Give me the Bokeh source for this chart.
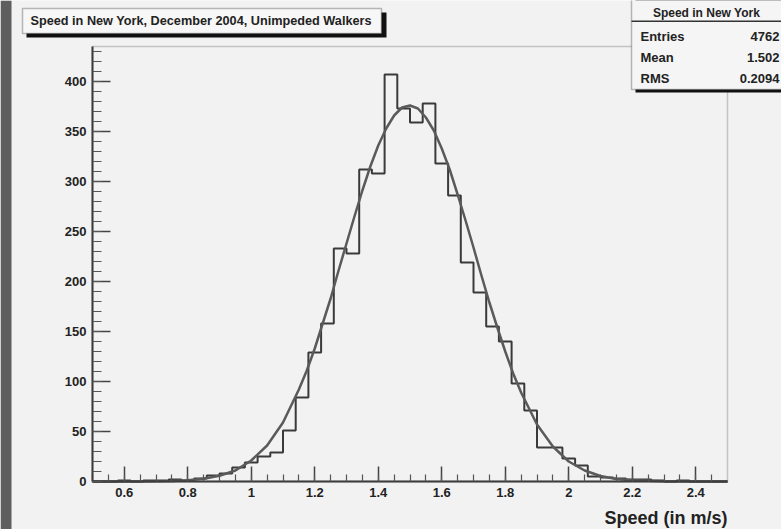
from bokeh.plotting import figure
from bokeh.models import Range1d, BoxAnnotation, Label, SingleIntervalTicker, CustomJSTickFormatter
from bokeh.embed import file_html
from bokeh.resources import INLINE

# ---------------- data ----------------
title_text = "Speed in New York, December 2004, Unimpeded Walkers"
x_label = "Speed (in m/s)"
stats_title = "Speed in New York"
stats_names = ["Entries", "Mean", "RMS"]
stats_values = ["4762", "1.502", "0.2094"]

bin_edges = [0.50, 0.54, 0.58, 0.62, 0.66, 0.70, 0.74, 0.78, 0.82, 0.86,
             0.90, 0.94, 0.98, 1.02, 1.06, 1.10, 1.14, 1.18, 1.22, 1.26,
             1.30, 1.34, 1.38, 1.42, 1.46, 1.50, 1.54, 1.58, 1.62, 1.66,
             1.70, 1.74, 1.78, 1.82, 1.86, 1.90, 1.94, 1.98, 2.02, 2.06,
             2.10, 2.14, 2.18, 2.22, 2.26, 2.30, 2.34, 2.38, 2.42, 2.46, 2.50]
counts = [0, 0, 1, 0, 1, 1, 2, 1, 3, 6,
          8, 14, 19, 25, 29, 51, 84, 129, 158, 233,
          228, 312, 308, 407, 373, 359, 378, 318, 286, 219,
          189, 155, 140, 98, 71, 34, 34, 23, 16, 5,
          4, 3, 2, 2, 1, 0, 1, 0, 0, 0]

fit_x = [0.50, 0.60, 0.70, 0.75, 0.80, 0.85, 0.90, 0.95, 1.00, 1.05,
         1.10, 1.15, 1.175, 1.20, 1.225, 1.25, 1.275, 1.30, 1.325, 1.35,
         1.375, 1.40, 1.425, 1.45, 1.475, 1.50, 1.525, 1.55, 1.575, 1.60,
         1.625, 1.65, 1.675, 1.70, 1.725, 1.75, 1.775, 1.80, 1.825, 1.85,
         1.90, 1.95, 2.00, 2.05, 2.10, 2.15, 2.20, 2.30, 2.40, 2.50]
fit_y = [0, 0, 0.2, 0.6, 1.3, 2.8, 5.8, 11, 21, 36,
         59, 92, 111, 133, 158, 183, 211, 238, 265, 291,
         315, 336, 353, 366, 374, 376, 373, 364, 351, 333,
         312, 287, 261, 234, 206, 179, 154, 130, 108, 89,
         57, 35, 20, 11, 5.5, 2.6, 1.2, 0.2, 0, 0]

x_lo, x_hi = 0.5, 2.5      # histogram axis range
y_lo, y_hi = 0, 435        # frame vertical range

FONT = "Liberation Sans"
BG = "#f2f2f2"
INK = "#222222"

W, H = 781, 529
# frame of the ROOT pad: x 92..727 px, y 46..481 px (from top)
px_per_x = (727 - 92) / (x_hi - x_lo)
px_per_y = (481 - 46) / (y_hi - y_lo)

p = figure(width=W, height=H,
           x_range=Range1d(x_lo - 92 / px_per_x, x_lo + (W - 92) / px_per_x),
           y_range=Range1d(y_lo - (H - 481) / px_per_y, y_lo + 481 / px_per_y),
           output_backend="svg", toolbar_location=None, title=None,
           background_fill_color=BG, border_fill_color=BG)
p.min_border = 0
p.grid.visible = False
p.outline_line_color = None

# dark strip at the left edge of the photo
p.add_layout(BoxAnnotation(left=0, right=11, top=0, bottom=H,
                           left_units="canvas", right_units="canvas",
                           top_units="canvas", bottom_units="canvas",
                           fill_color="#5e5e5e", fill_alpha=1, line_alpha=0))

# frame box
p.add_layout(BoxAnnotation(left=x_lo, right=x_hi, bottom=y_lo, top=y_hi,
                           fill_alpha=0, line_color="#555555", line_width=1.5))

p.xaxis.fixed_location = y_lo
p.yaxis.fixed_location = x_lo
p.xaxis.bounds = (x_lo, x_hi)
p.yaxis.bounds = (y_lo, y_hi)

for ax in (p.xaxis[0], p.yaxis[0]):
    ax.major_tick_out = 0
    ax.minor_tick_out = 0
    ax.axis_line_width = 2
    ax.axis_line_color = "#333333"
    ax.major_tick_line_color = "#444444"
    ax.major_tick_line_width = 1.5
    ax.minor_tick_line_color = "#555555"
    ax.minor_tick_line_width = 1.2
    ax.major_label_text_font = FONT
    ax.major_label_text_font_style = "bold"
    ax.major_label_text_font_size = "13px"
    ax.major_label_text_color = INK
    ax.major_label_standoff = 6

p.xaxis.major_tick_in = 15
p.xaxis.minor_tick_in = 7
p.yaxis.major_tick_in = 18
p.yaxis.minor_tick_in = 9
p.xaxis.ticker = SingleIntervalTicker(interval=0.2, num_minor_ticks=4)
p.yaxis.ticker = SingleIntervalTicker(interval=50, num_minor_ticks=5)
p.xaxis.formatter = CustomJSTickFormatter(code="return (Math.round(tick*10)/10).toString();")

# histogram outline
p.step(x=bin_edges, y=counts + [counts[-1]], mode="after",
       line_color="#3a3a3a", line_width=2)
# fit curve
p.line(fit_x, fit_y, line_color="#5a5a5a", line_width=2.5)


def cbox(l, r, t, b, **kw):
    return BoxAnnotation(left=l, right=r, top=t, bottom=b,
                         left_units="canvas", right_units="canvas",
                         top_units="canvas", bottom_units="canvas", **kw)


def clabel(x, y, text, size, align="left", **kw):
    return Label(x=x, y=y, x_units="canvas", y_units="canvas", text=text,
                 text_align=align, text_baseline="middle", text_font=FONT,
                 text_font_size=size, text_font_style="bold", text_color=INK, **kw)


# title pave with shadow
p.add_layout(cbox(26, 386, 12, 37, fill_color="#111111", fill_alpha=1, line_alpha=0))
p.add_layout(cbox(22, 381, 8, 33, fill_color="#f7f7f7", fill_alpha=1,
                  line_color=INK, line_width=1.5))
p.add_layout(clabel(30, 20.5, title_text, "12.7px"))

# statistics pave
p.add_layout(cbox(635, 800, -10, 92, fill_color="#111111", fill_alpha=1, line_alpha=0))
p.add_layout(cbox(631, 800, -10, 89, fill_color="#f5f5f5", fill_alpha=1,
                  line_color=INK, line_width=1.5))
p.add_layout(cbox(631, 800, 20, 21.5, fill_color="#333333", fill_alpha=1, line_alpha=0))
p.add_layout(clabel(706, 12, stats_title, "12px", align="center"))
for i, (n, v) in enumerate(zip(stats_names, stats_values)):
    yy = 36 + 21 * i
    p.add_layout(clabel(640, yy, n, "13px"))
    p.add_layout(clabel(779, yy, v, "13px", align="right"))

# x axis title, right aligned as in ROOT
p.add_layout(clabel(727, 517, x_label, "18px", align="right"))

open("out.html", "w").write(file_html(p, INLINE))
